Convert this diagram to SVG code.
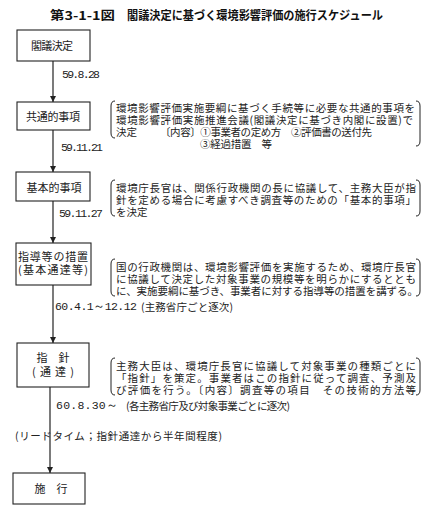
<svg xmlns="http://www.w3.org/2000/svg" width="426" height="516" viewBox="0 0 426 516">
<defs>
<marker id="ah" markerUnits="userSpaceOnUse" markerWidth="6" markerHeight="9" viewBox="0 0 6 9" refX="6" refY="3" orient="auto">
<path d="M0,0 L6,3 L0,6 Z" fill="#222"/>
</marker>
<style>
.box{fill:#fff;stroke:#222;stroke-width:1.1}
.bt{font-family:"Noto Sans CJK JP","Noto Sans CJK SC",sans-serif;font-size:11px;fill:#222;text-anchor:middle;dominant-baseline:central}
.tx{font-family:"Noto Sans CJK JP","Noto Sans CJK SC",sans-serif;font-size:10.5px;fill:#222;dominant-baseline:central}
.num{font-family:"Liberation Mono","DejaVu Sans Mono",monospace;font-size:11.5px;fill:#222;dominant-baseline:central}
.lbl{font-family:"Noto Sans CJK JP","Noto Sans CJK SC",sans-serif;font-size:10.5px;fill:#222;dominant-baseline:central}
.par{fill:none;stroke:#222;stroke-width:1}
.con{fill:none;stroke:#222;stroke-width:1.2;marker-end:url(#ah)}
.ttl{font-family:"Noto Sans CJK JP","Noto Sans CJK SC",sans-serif;font-size:12px;font-weight:bold;fill:#111;dominant-baseline:central}
</style>
</defs>
<rect width="426" height="516" fill="#fff"/>
<g id="title">
<text class="ttl" x="50" y="14" textLength="65" lengthAdjust="spacingAndGlyphs">第3-1-1図</text>
<text class="ttl" x="127" y="14" textLength="256" lengthAdjust="spacingAndGlyphs">閣議決定に基づく環境影響評価の施行スケジュール</text>
</g>
<g id="connectors">
<line class="con" x1="53" y1="61" x2="53" y2="102"/>
<line class="con" x1="53" y1="130" x2="53" y2="172"/>
<line class="con" x1="53" y1="201" x2="53" y2="243"/>
<line class="con" x1="53" y1="285" x2="53" y2="343"/>
<line class="con" x1="50" y1="387" x2="50" y2="473"/>
</g>
<g id="node-kakugi">
<rect class="box" x="17" y="30" width="73" height="31"/>
<text class="bt" x="52" y="45" textLength="42">閣議決定</text>
</g>
<g id="node-kyotsu">
<rect class="box" x="17" y="102" width="73" height="28"/>
<text class="bt" x="53" y="116" textLength="54">共通的事項</text>
</g>
<g id="node-kihon">
<rect class="box" x="16" y="172" width="74" height="29"/>
<text class="bt" x="54" y="187" textLength="55">基本的事項</text>
</g>
<g id="node-shido">
<rect class="box" x="16" y="243" width="75" height="42"/>
<text class="bt" x="53" y="256" textLength="70">指導等の措置</text>
<text class="bt" x="53" y="269" textLength="70">(基本通達等)</text>
</g>
<g id="node-shishin">
<rect class="box" x="17" y="343" width="72" height="44"/>
<text class="bt" x="53" y="357">指　針</text>
<text class="bt" x="53" y="371" textLength="42">(通達)</text>
</g>
<g id="node-shiko">
<rect class="box" x="13" y="473" width="72" height="31"/>
<text class="bt" x="51" y="488">施　行</text>
</g>
<g id="labels">
<text class="num" x="62" y="74" textLength="38">59.8.28</text>
<text class="num" x="61" y="147" textLength="42">59.11.21</text>
<text class="num" x="59" y="213" textLength="44">59.11.27</text>
<text class="num" x="55" y="306" textLength="82">60.4.1～12.12</text>
<text class="lbl" x="141" y="306" textLength="92">(主務省庁ごと逐次)</text>
<text class="num" x="56" y="405" textLength="62">60.8.30～</text>
<text class="lbl" x="126" y="405" textLength="164">(各主務省庁及び対象事業ごとに逐次)</text>
<text class="lbl" x="15" y="435" textLength="207">(リードタイム；指針通達から半年間程度)</text>
</g>
<g id="note-kyotsu">
<path class="par" d="M115,101 Q111,101 111,106 L111,133 Q111,138 115,138"/>
<path class="par" d="M416,101 Q420,101 420,106 L420,141 Q420,146 416,146"/>
<text class="tx" x="116" y="107" textLength="299">環境影響評価実施要綱に基づく手続等に必要な共通的事項を</text>
<text class="tx" x="116" y="119" textLength="297">環境影響評価実施推進会議(閣議決定に基づき内閣に設置)で</text>
<text class="tx" x="116" y="131">決定</text>
<text class="tx" x="160" y="131" textLength="212">〔内容〕①事業者の定め方　②評価書の送付先</text>
<text class="tx" x="200" y="143" textLength="72">③経過措置　等</text>
</g>
<g id="note-kihon">
<path class="par" d="M115,180 Q111,180 111,185 L111,211 Q111,216 115,216"/>
<path class="par" d="M416,180 Q420,180 420,185 L420,211 Q420,216 416,216"/>
<text class="tx" x="116" y="187" textLength="300">環境庁長官は、関係行政機関の長に協議して、主務大臣が指</text>
<text class="tx" x="116" y="199" textLength="300">針を定める場合に考慮すべき調査等のための「基本的事項」</text>
<text class="tx" x="116" y="211">を決定</text>
</g>
<g id="note-shido">
<path class="par" d="M115,259 Q111,259 111,264 L111,291 Q111,296 115,296"/>
<path class="par" d="M416,259 Q420,259 420,264 L420,291 Q420,296 416,296"/>
<text class="tx" x="116" y="266" textLength="300">国の行政機関は、環境影響評価を実施するため、環境庁長官</text>
<text class="tx" x="116" y="278" textLength="300">に協議して決定した対象事業の規模等を明らかにするととも</text>
<text class="tx" x="116" y="290" textLength="302">に、実施要綱に基づき、事業者に対する指導等の措置を講ずる。</text>
</g>
<g id="note-shishin">
<path class="par" d="M115,358 Q111,358 111,363 L111,390 Q111,395 115,395"/>
<path class="par" d="M416,358 Q420,358 420,363 L420,390 Q420,395 416,395"/>
<text class="tx" x="116" y="365" textLength="300">主務大臣は、環境庁長官に協議して対象事業の種類ごとに</text>
<text class="tx" x="116" y="377" textLength="300">「指針」を策定。事業者はこの指針に従って調査、予測及</text>
<text class="tx" x="116" y="389" textLength="300">び評価を行う。〔内容〕調査等の項目　その技術的方法等</text>
</g>
</svg>
